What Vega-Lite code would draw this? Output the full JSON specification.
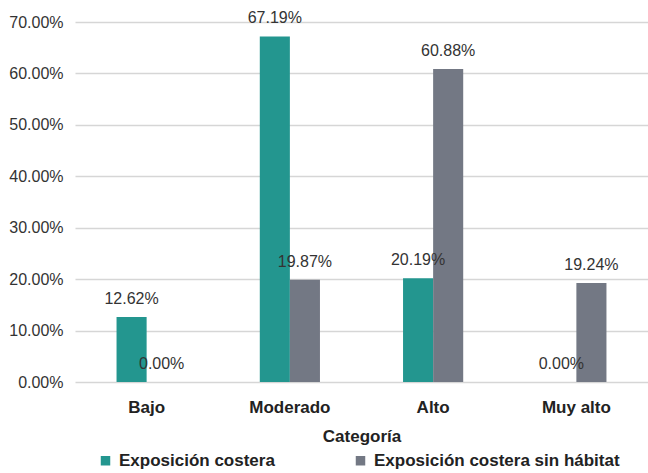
{
  "$schema": "https://vega.github.io/schema/vega-lite/v6.json",
  "width": 573,
  "height": 360,
  "autosize": "none",
  "padding": {"left": 75, "top": 22, "right": 0, "bottom": 91},
  "background": "white",
  "data": {
    "values": [
      {"cat": "Bajo", "serie": "Exposición costera", "valor": 0.1262},
      {"cat": "Bajo", "serie": "Exposición costera sin hábitat", "valor": 0.0},
      {"cat": "Moderado", "serie": "Exposición costera", "valor": 0.6719},
      {"cat": "Moderado", "serie": "Exposición costera sin hábitat", "valor": 0.1987},
      {"cat": "Alto", "serie": "Exposición costera", "valor": 0.2019},
      {"cat": "Alto", "serie": "Exposición costera sin hábitat", "valor": 0.6088},
      {"cat": "Muy alto", "serie": "Exposición costera", "valor": 0.0},
      {"cat": "Muy alto", "serie": "Exposición costera sin hábitat", "valor": 0.1924}
    ]
  },
  "encoding": {
    "x": {
      "field": "cat", "type": "nominal",
      "sort": ["Bajo", "Moderado", "Alto", "Muy alto"],
      "scale": {"paddingInner": 0.58, "paddingOuter": 0.29},
      "axis": {
        "title": "Categoría", "labelAngle": 0, "domain": false, "ticks": false,
        "labelFont": "Liberation Sans", "labelFontSize": 17, "labelFontWeight": "bold",
        "labelColor": "#222222", "labelPadding": 17,
        "titleFont": "Liberation Sans", "titleFontSize": 17, "titleFontWeight": "bold",
        "titleColor": "#222222", "titlePadding": 13
      }
    },
    "xOffset": {"field": "serie", "type": "nominal", "sort": ["Exposición costera", "Exposición costera sin hábitat"]},
    "y": {
      "field": "valor", "type": "quantitative",
      "scale": {"domain": [0, 0.7], "nice": false},
      "axis": {
        "title": null, "format": ".2%", "values": [0, 0.1, 0.2, 0.3, 0.4, 0.5, 0.6, 0.7],
        "domain": false, "ticks": false, "gridColor": "#d6d6d6", "gridWidth": 1.5,
        "labelFont": "Liberation Sans", "labelFontSize": 16, "labelColor": "#333333",
        "labelPadding": 12
      }
    }
  },
  "layer": [
    {
      "mark": {"type": "bar"},
      "encoding": {
        "color": {
          "field": "serie", "type": "nominal",
          "sort": ["Exposición costera", "Exposición costera sin hábitat"],
          "scale": {"range": ["#23968f", "#737884"]},
          "legend": {
            "title": null, "orient": "none", "direction": "horizontal",
            "legendX": 22, "legendY": 430,
            "symbolType": "square", "symbolSize": 90, "symbolStrokeWidth": 0,
            "labelFont": "Liberation Sans", "labelFontSize": 17, "labelFontWeight": "bold",
            "labelColor": "#222222", "labelLimit": 400, "columnPadding": 77, "labelOffset": 5
          }
        }
      }
    },
    {
      "mark": {"type": "text", "baseline": "alphabetic", "dy": -13, "font": "Liberation Sans", "fontSize": 16, "color": "#333333"},
      "encoding": {
        "text": {"field": "valor", "type": "quantitative", "format": ".2%"}
      }
    }
  ],
  "config": {"view": {"stroke": null}}
}
